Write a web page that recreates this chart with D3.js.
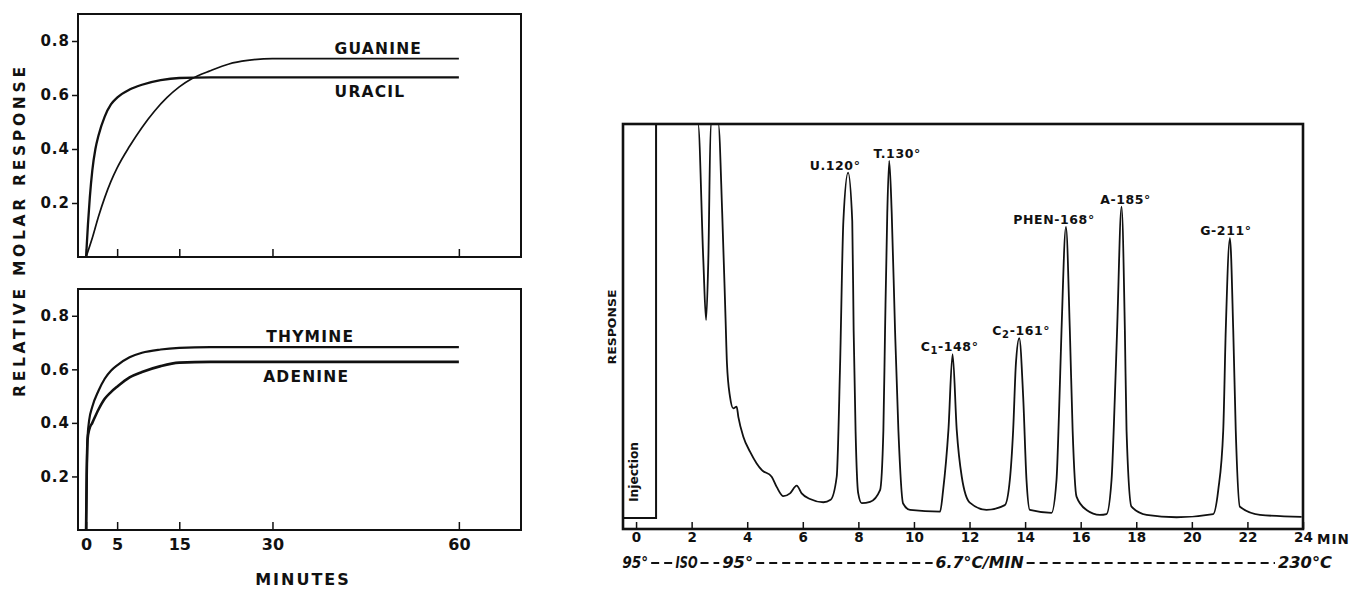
<!DOCTYPE html>
<html>
<head>
<meta charset="utf-8">
<script src="https://cdn.jsdelivr.net/npm/d3@7"></script>
<style>
  body { margin: 0; background: #fff; }
  svg { display: block; font-family: "DejaVu Sans", sans-serif; font-weight: bold; }
</style>
</head>
<body>
<svg id="chart" width="1355" height="589"></svg>
<script>
// ---- left: relative molar response vs. minutes ----
const guanineT = [0, 1, 2, 3, 4, 5, 7, 9, 11, 13, 15, 17, 20, 23, 26, 30, 45, 60];
const guanineY = [0, 0.07, 0.15, 0.22, 0.28, 0.33, 0.41, 0.48, 0.54, 0.59, 0.63, 0.66, 0.69, 0.715, 0.728, 0.735, 0.735, 0.735];
const uracilT = [0, 0.3, 0.6, 1, 1.5, 2, 3, 4, 5, 7, 9, 12, 15, 20, 30, 60];
const uracilY = [0, 0.12, 0.22, 0.32, 0.4, 0.45, 0.52, 0.565, 0.59, 0.62, 0.638, 0.655, 0.663, 0.665, 0.665, 0.665];
const thymineT = [0, 0.1, 0.25, 0.5, 1, 2, 3, 4, 5, 7, 9, 12, 15, 20, 60];
const thymineY = [0, 0.2, 0.35, 0.41, 0.46, 0.52, 0.565, 0.595, 0.615, 0.645, 0.662, 0.674, 0.68, 0.683, 0.683];
const adenineT = [0, 0.1, 0.25, 0.5, 1, 2, 3, 4, 5, 7, 9, 12, 15, 20, 60];
const adenineY = [0, 0.2, 0.34, 0.375, 0.4, 0.45, 0.49, 0.515, 0.535, 0.57, 0.59, 0.612, 0.625, 0.628, 0.628];
const minuteTicks = [0, 5, 15, 30, 60];
const responseTicks = [0.2, 0.4, 0.6, 0.8];

// ---- right: chromatogram (minutes, % of full scale) ----
const injectionT = [-0.47, 0.72, 0.72];
const injectionR = [2.7, 2.7, 100];
const traceT = [0.72, 2.23, 2.42, 2.52, 2.6, 2.69, 2.96, 3.1, 3.22, 3.27, 3.38, 3.5, 3.62, 3.68, 3.86, 4.1, 4.34, 4.52, 4.88, 5.06, 5.3, 5.54, 5.78, 5.96, 6.26, 6.74, 7.0,
  7.22, 7.34, 7.46, 7.63, 7.78, 7.83, 7.9, 7.99, 8.12, 8.42,
  8.78, 8.9, 8.96, 9.04, 9.11, 9.2, 9.32, 9.44, 9.61, 9.86, 10.94,
  11.05, 11.24, 11.39, 11.54, 11.72, 12.01, 12.61, 13.27,
  13.45, 13.57, 13.67, 13.79, 13.93, 14.05, 14.17, 14.95,
  15.13, 15.22, 15.31, 15.47, 15.61, 15.71, 15.85, 16.21, 16.69, 16.93,
  17.11, 17.23, 17.31, 17.47, 17.59, 17.65, 17.83, 18.37, 19.45, 20.77,
  20.95, 21.13, 21.22, 21.37, 21.49, 21.58, 21.73, 22.45, 23.95];
const traceR = [100, 100, 66.4, 51.6, 66.4, 100, 100, 78, 52, 41, 32.7, 29.8, 30.2, 27.7, 22.8, 19.1, 16.2, 14.6, 12.9, 10.4, 8.1, 8.8, 10.7, 8.8, 7.4, 6.6, 7.2,
  12.9, 40, 76, 88, 76, 49, 24, 9, 6.4, 6.7,
  9.6, 24.4, 49, 78, 90.9, 78, 49, 24.4, 6.3, 4.7, 4.3,
  9.6, 24.4, 43.2, 24.4, 12.9, 6.5, 4.7, 5.9,
  12.1, 24.4, 41, 47.1, 32.7, 12.1, 4.7, 4.0,
  12.1, 28.6, 49, 74.6, 49, 24.4, 8, 4.7, 3.5, 3.7,
  12.1, 32.7, 49, 79.6, 49, 24.4, 5.5, 3.5, 2.9, 3.7,
  9.6, 24.4, 49, 71.8, 49, 24.4, 5.5, 3.5, 3.0];
const peakNames = ["U.120°", "T.130°", "C1-148°", "C2-161°", "PHEN-168°", "A-185°", "G-211°"];
const peakT = [7.63, 9.11, 11.39, 13.79, 15.47, 17.47, 21.37];
const peakR = [88, 90.9, 43.2, 47.1, 74.6, 79.6, 71.8];
const chromTicks = [0, 2, 4, 6, 8, 10, 12, 14, 16, 18, 20, 22, 24];
const tempProgram = ["95°", "ISO", "95°", "6.7°C/MIN", "230°C"];

const svg = d3.select("#chart");
const ink = "#111";

// ================= left panels =================
const xMin = d3.scaleLinear().domain([-1.3, 70]).range([78, 521]);

const panels = [
  { top: 14, bottom: 257, labelled: false,
    series: [
      { name: "GUANINE", t: guanineT, y: guanineY, w: 1.7, at: 40, above: true },
      { name: "URACIL", t: uracilT, y: uracilY, w: 2.3, at: 40, above: false }
    ] },
  { top: 289, bottom: 530, labelled: true,
    series: [
      { name: "THYMINE", t: thymineT, y: thymineY, w: 2.2, at: 29, above: true },
      { name: "ADENINE", t: adenineT, y: adenineY, w: 2.6, at: 28.5, above: false }
    ] }
];

panels.forEach(p => {
  const y = d3.scaleLinear().domain([0, 0.9]).range([p.bottom, p.top]);
  const g = svg.append("g");

  g.append("rect")
    .attr("x", xMin.range()[0]).attr("y", p.top)
    .attr("width", xMin.range()[1] - xMin.range()[0])
    .attr("height", p.bottom - p.top)
    .attr("fill", "none").attr("stroke", ink).attr("stroke-width", 2);

  const yAxis = g.append("g")
    .attr("transform", `translate(${xMin.range()[0]},0)`)
    .call(d3.axisLeft(y).tickValues(responseTicks).tickFormat(d3.format(".1f")).tickSize(6).tickPadding(2));
  yAxis.select(".domain").remove();
  yAxis.selectAll("line").attr("stroke", ink).attr("stroke-width", 1.5);
  yAxis.selectAll("text").attr("fill", ink).attr("font-size", 15).attr("font-family", "DejaVu Sans")
    .attr("font-weight", "bold").attr("letter-spacing", 1);

  const xAxis = g.append("g")
    .attr("transform", `translate(0,${p.bottom})`)
    .call(d3.axisBottom(xMin).tickValues(minuteTicks).tickSize(-8).tickPadding(9)
      .tickFormat(p.labelled ? d3.format("d") : ""));
  xAxis.select(".domain").remove();
  xAxis.selectAll("line").attr("stroke", ink).attr("stroke-width", 1.5);
  xAxis.selectAll("text").attr("fill", ink).attr("font-size", 16).attr("font-family", "DejaVu Sans")
    .attr("font-weight", "bold");

  p.series.forEach(s => {
    const pts = s.t.map((t, i) => [t, s.y[i]]);
    g.append("path")
      .datum(pts)
      .attr("fill", "none").attr("stroke", ink).attr("stroke-width", s.w)
      .attr("stroke-linejoin", "round")
      .attr("d", d3.line().x(d => xMin(d[0])).y(d => y(d[1])).curve(d3.curveMonotoneX));

    const plateau = s.y[s.y.length - 1];
    g.append("text")
      .attr("x", xMin(s.at))
      .attr("y", y(plateau) + (s.above ? -5 : 20))
      .attr("font-size", 15.5).attr("letter-spacing", 1.2).attr("fill", ink)
      .text(s.name);
  });
});

svg.append("text")
  .attr("transform", "translate(25,232) rotate(-90)")
  .attr("text-anchor", "middle")
  .attr("font-size", 15.5).attr("fill", ink)
  .attr("textLength", 330).attr("lengthAdjust", "spacing")
  .text("RELATIVE MOLAR RESPONSE");

svg.append("text")
  .attr("x", 303).attr("y", 585)
  .attr("text-anchor", "middle")
  .attr("font-size", 16).attr("letter-spacing", 2).attr("fill", ink)
  .text("MINUTES");

// ================= right chromatogram =================
const xRt = d3.scaleLinear().domain([-0.47, 24]).range([623, 1303]);
const yRt = d3.scaleLinear().domain([0, 100]).range([529, 124]);

svg.append("clipPath").attr("id", "rtClip")
  .append("rect")
  .attr("x", xRt.range()[0]).attr("y", yRt.range()[1])
  .attr("width", xRt.range()[1] - xRt.range()[0])
  .attr("height", yRt.range()[0] - yRt.range()[1]);

const rt = svg.append("g");

rt.append("path")
  .datum(injectionT.map((t, i) => [t, injectionR[i]]))
  .attr("fill", "none").attr("stroke", ink).attr("stroke-width", 2)
  .attr("clip-path", "url(#rtClip)")
  .attr("d", d3.line().x(d => xRt(d[0])).y(d => yRt(d[1])));

rt.append("path")
  .datum(traceT.map((t, i) => [t, traceR[i]]))
  .attr("fill", "none").attr("stroke", ink).attr("stroke-width", 1.8)
  .attr("stroke-linejoin", "round")
  .attr("clip-path", "url(#rtClip)")
  .attr("d", d3.line().x(d => xRt(d[0])).y(d => yRt(d[1])).curve(d3.curveMonotoneX));

rt.append("rect")
  .attr("x", xRt.range()[0]).attr("y", yRt.range()[1])
  .attr("width", xRt.range()[1] - xRt.range()[0])
  .attr("height", yRt.range()[0] - yRt.range()[1])
  .attr("fill", "none").attr("stroke", ink).attr("stroke-width", 2.6);

const rtAxis = rt.append("g")
  .attr("transform", `translate(0,${yRt.range()[0]})`)
  .call(d3.axisBottom(xRt).tickValues(chromTicks).tickSize(-7).tickPadding(3).tickFormat(d3.format("d")));
rtAxis.select(".domain").remove();
rtAxis.selectAll("line").attr("stroke", ink).attr("stroke-width", 1.5);
rtAxis.selectAll("text").attr("fill", ink).attr("font-size", 13.5).attr("font-family", "DejaVu Sans")
  .attr("font-weight", "bold");

rt.append("text")
  .attr("x", xRt(24) + 14).attr("y", yRt.range()[0] + 15)
  .attr("font-size", 13.5).attr("letter-spacing", 1).attr("fill", ink)
  .text("MIN");

// peak labels (C1, C2 with subscript)
const labelDx = [-13, 8, -3, 2, -12, 4, -4];
peakNames.forEach((name, i) => {
  const t = rt.append("text")
    .attr("x", xRt(peakT[i]) + labelDx[i])
    .attr("y", yRt(peakR[i]) - 3)
    .attr("text-anchor", "middle")
    .attr("font-size", 12.5).attr("letter-spacing", 0.6).attr("fill", ink);
  if (name.startsWith("C")) {
    t.append("tspan").text("C");
    t.append("tspan").attr("font-size", 10).attr("dy", 3).text(name[1]);
    t.append("tspan").attr("dy", -3).text(name.slice(2));
  } else {
    t.text(name);
  }
});

// y-axis title and injection mark
rt.append("text")
  .attr("transform", `translate(${xRt.range()[0] - 7},327) rotate(-90)`)
  .attr("text-anchor", "middle")
  .attr("font-size", 11).attr("fill", ink)
  .attr("textLength", 75).attr("lengthAdjust", "spacingAndGlyphs")
  .text("RESPONSE");

rt.append("text")
  .attr("transform", `translate(${xRt(0.07)},472) rotate(-90)`)
  .attr("text-anchor", "middle")
  .attr("font-size", 12).attr("fill", ink)
  .attr("textLength", 60).attr("lengthAdjust", "spacingAndGlyphs")
  .text("Injection");

// temperature program line
const tempAt = [-0.5, 1.42, 3.1, 10.78, 23.1];
const tempLen = [26, 22, 31, 88, 54];
const tempY = 568;
tempProgram.forEach((s, i) => {
  rt.append("text")
    .attr("x", xRt(tempAt[i])).attr("y", tempY)
    .attr("font-size", 15).attr("font-style", "italic").attr("fill", ink)
    .attr("textLength", tempLen[i]).attr("lengthAdjust", "spacingAndGlyphs")
    .text(s);
});
for (let i = 0; i < tempProgram.length - 1; i++) {
  const x0 = xRt(tempAt[i]) + tempLen[i] + 3;
  const x1 = xRt(tempAt[i + 1]) - 3;
  rt.append("line")
    .attr("x1", x0).attr("x2", x1)
    .attr("y1", tempY - 5).attr("y2", tempY - 5)
    .attr("stroke", ink).attr("stroke-width", 2.2)
    .attr("stroke-dasharray", "8,5");
}
</script>
</body>
</html>
